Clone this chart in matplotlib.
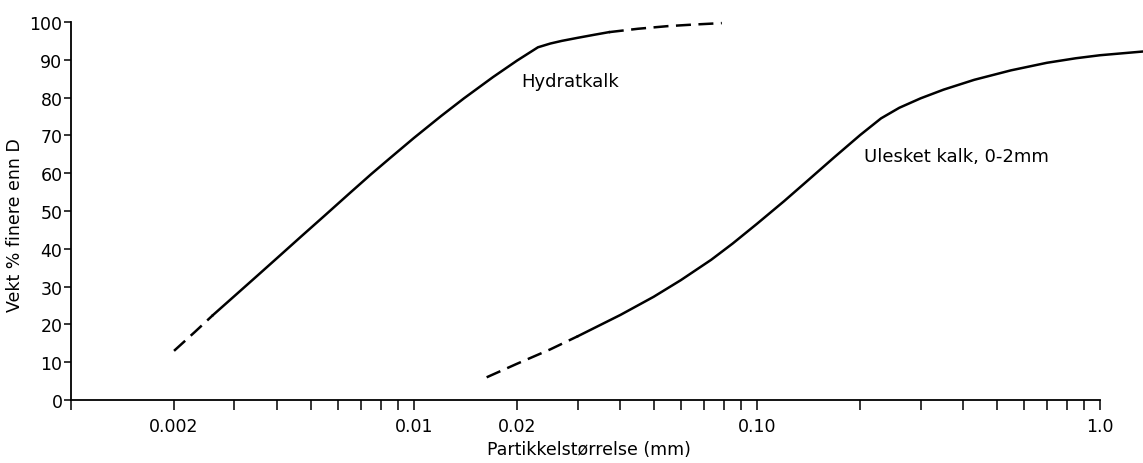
import numpy as np
import matplotlib
matplotlib.use("Agg")
import matplotlib.pyplot as plt
from matplotlib.ticker import FixedLocator, NullFormatter

# Hydratkalk (dashed ends, solid middle)
hyd_lo_x = [0.0020, 0.0023, 0.0026]
hyd_lo_y = [13.0, 18.0, 22.5]
hyd_x = [0.0026, 0.0030, 0.0035, 0.0040, 0.0047, 0.0055, 0.0065, 0.0075, 0.0085,
         0.0100, 0.0120, 0.0140, 0.0170, 0.0200, 0.0230, 0.0250, 0.0270, 0.0300,
         0.0335, 0.0370]
hyd_y = [22.5, 27.5, 32.9, 37.6, 43.3, 48.8, 54.7, 59.7, 63.9,
         69.3, 75.1, 79.8, 85.4, 89.8, 93.3, 94.3, 95.0, 95.8,
         96.6, 97.3]
hyd_hi_x = [0.0370, 0.0450, 0.0550, 0.0650, 0.0790]
hyd_hi_y = [97.3, 98.2, 98.9, 99.3, 99.7]

# Ulesket kalk, 0-2mm
ul_lo_x = [0.0163, 0.0200, 0.0250, 0.0301]
ul_lo_y = [6.0, 9.6, 13.4, 16.9]
ul_x = [0.0301, 0.040, 0.050, 0.060, 0.0736, 0.085, 0.100, 0.120, 0.140, 0.168,
        0.200, 0.230, 0.260, 0.300, 0.350, 0.430, 0.550, 0.700, 0.850, 1.0, 1.34]
ul_y = [16.9, 22.5, 27.3, 31.7, 37.1, 41.4, 46.6, 52.6, 57.9, 64.2,
        70.1, 74.5, 77.3, 79.8, 82.1, 84.7, 87.2, 89.2, 90.4, 91.2, 92.2]

major_ticks = [0.001, 0.002, 0.01, 0.02, 0.1, 1.0]
major_labels = ['', '0.002', '0.01', '0.02', '0.10', '1.0']
minor_ticks = [m * 10.0 ** e for e in (-3, -2, -1) for m in range(2, 10)]
y_ticks = list(range(0, 101, 10))

fig = plt.figure(figsize=(11.43, 4.64), dpi=100)
ax = fig.add_axes([0.0619, 0.1358, 0.9005, 0.8147])

lw = 1.8
dash = (6, 3)
ax.plot(hyd_lo_x, hyd_lo_y, color='black', lw=lw, dashes=dash, clip_on=False)
ax.plot(hyd_x, hyd_y, color='black', lw=lw, clip_on=False)
ax.plot(hyd_hi_x, hyd_hi_y, color='black', lw=lw, dashes=dash, clip_on=False)
ax.plot(ul_lo_x, ul_lo_y, color='black', lw=lw, dashes=dash, clip_on=False)
ax.plot(ul_x, ul_y, color='black', lw=lw, clip_on=False)

ax.text(0.0206, 84.5, 'Hydratkalk', fontsize=13, ha='left', va='center')
ax.text(0.2056, 64.5, 'Ulesket kalk, 0-2mm', fontsize=13, ha='left', va='center')

ax.set_xscale('log')
ax.set_xlim(0.001, 1.0)
ax.set_ylim(0, 100)

ax.xaxis.set_major_locator(FixedLocator(major_ticks))
ax.set_xticklabels(major_labels)
ax.xaxis.set_minor_locator(FixedLocator([t for t in minor_ticks if t not in major_ticks]))
ax.xaxis.set_minor_formatter(NullFormatter())
ax.set_yticks(y_ticks)

ax.tick_params(axis='x', which='both', direction='out', length=7, width=1.1,
               labelsize=12.5, pad=5)
ax.tick_params(axis='y', direction='out', length=5, width=1.1, labelsize=12.5, pad=1)

for side in ('top', 'right'):
    ax.spines[side].set_visible(False)
for side in ('left', 'bottom'):
    ax.spines[side].set_linewidth(1.3)

fig.text(15 / 1143, 0.515, 'Vekt % finere enn D', rotation=90, fontsize=12.5,
         ha='center', va='center')
fig.text(589 / 1143, 0.03, 'Partikkelstørrelse (mm)', fontsize=12.5,
         ha='center', va='center')

fig.savefig('out.png', dpi=100)
